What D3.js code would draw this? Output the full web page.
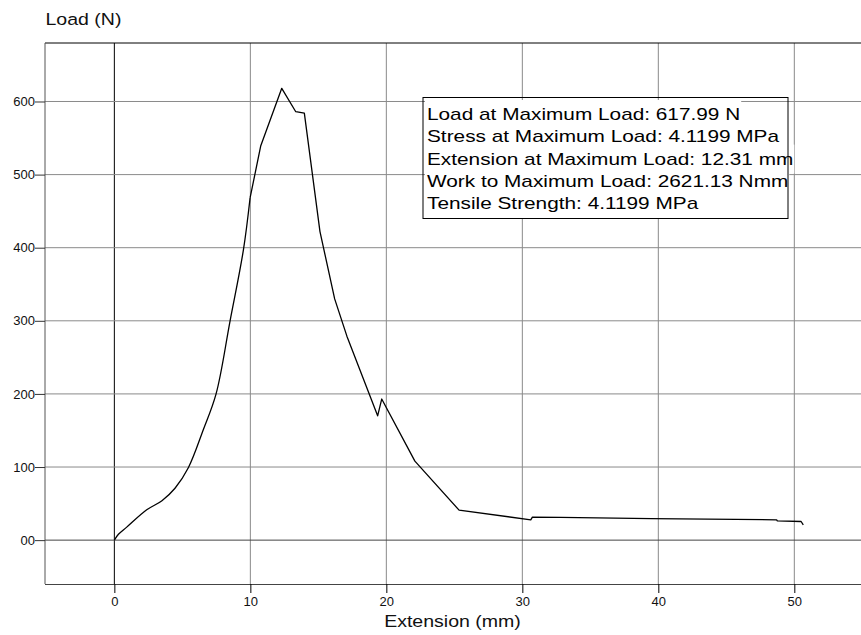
<!DOCTYPE html>
<html>
<head>
<meta charset="utf-8">
<script src="https://cdn.jsdelivr.net/npm/d3@7"></script>
<style>
  body { margin: 0; background: #fff; }
  svg { display: block; font-family: "Liberation Sans", Arial, sans-serif; }
</style>
</head>
<body>
<div id="chart"></div>
<script>
// load / extension curve
const extension = [0, 0.3, 0.91, 2.38, 3.5, 4.46, 5.44, 6.54, 7.48, 8.51, 9.49, 9.98, 10.76,
    12.31, 13.34, 13.97, 15.12, 16.2, 17.1, 19.36, 19.66, 22.1, 25.35, 30.62, 30.74, 32.8, 39.5, 48.7, 48.75, 50.5, 50.66];
const load = [0, 8, 17.8, 41.5, 54, 71, 99, 151, 200, 300, 397, 468, 539,
    618, 586, 584, 422, 330, 279, 170, 193, 108, 41, 27.8, 31.5, 31, 29.5, 27.8, 26.4, 25.5, 21];

const xTicks = [0, 10, 20, 30, 40, 50];
const yTicks = [0, 100, 200, 300, 400, 500, 600];
const yTickLabels = ["00", "100", "200", "300", "400", "500", "600"];

const resultLines = [
    "Load at Maximum Load: 617.99 N",
    "Stress at Maximum Load: 4.1199 MPa",
    "Extension at Maximum Load: 12.31 mm",
    "Work to Maximum Load: 2621.13 Nmm",
    "Tensile Strength: 4.1199 MPa"
];

const width = 861, height = 635;
const plotLeft = 45, plotRight = 860, plotTop = 43, plotBottom = 584;

const x = d3.scaleLinear().domain([-5.1, 54.83]).range([plotLeft, plotRight]);
const y = d3.scaleLinear().domain([-60, 680]).range([plotBottom, plotTop]);

const svg = d3.select("#chart").append("svg")
    .attr("width", width)
    .attr("height", height);

svg.append("rect").attr("width", width).attr("height", height).attr("fill", "#fff");

// grid
svg.append("g")
    .selectAll("line")
    .data(xTicks)
    .join("line")
    .attr("x1", d => x(d)).attr("x2", d => x(d))
    .attr("y1", plotTop).attr("y2", plotBottom)
    .attr("stroke", d => d === 0 ? "#000" : "#8a8a8a")
    .attr("stroke-width", 1);

svg.append("g")
    .selectAll("line")
    .data(yTicks)
    .join("line")
    .attr("x1", plotLeft).attr("x2", width)
    .attr("y1", d => y(d)).attr("y2", d => y(d))
    .attr("stroke", d => d === 0 ? "#444" : "#8a8a8a")
    .attr("stroke-width", 1);

// frame
svg.append("line").attr("x1", plotLeft).attr("x2", width).attr("y1", plotTop).attr("y2", plotTop)
    .attr("stroke", "#000");
svg.append("line").attr("x1", plotLeft).attr("x2", plotLeft).attr("y1", plotTop).attr("y2", plotBottom)
    .attr("stroke", "#555");

// axes
const xAxis = d3.axisBottom(x).tickValues(xTicks).tickSize(9).tickPadding(4);
svg.append("g")
    .attr("transform", `translate(0,${plotBottom})`)
    .call(xAxis)
    .call(g => g.select(".domain").attr("d", `M${plotLeft},0.5H${width}`).attr("stroke", "#444"))
    .call(g => g.selectAll(".tick line").attr("stroke", "#000"))
    .call(g => g.selectAll("text").attr("font-size", 13).attr("font-family", null).attr("fill", "#111"));

const yAxis = d3.axisLeft(y).tickValues(yTicks).tickFormat((d, i) => yTickLabels[i]).tickSize(10).tickPadding(0);
svg.append("g")
    .attr("transform", `translate(${plotLeft},0)`)
    .call(yAxis)
    .call(g => g.select(".domain").remove())
    .call(g => g.selectAll(".tick line").attr("stroke", "#333"))
    .call(g => g.selectAll("text").attr("font-size", 13).attr("font-family", null).attr("fill", "#111"));

// curve: smooth toe region, straight segments after ~10 mm
const pts = extension.map((e, i) => [e, load[i]]);
const smoothEnd = 11;

const smoothLine = d3.line()
    .x(d => x(d[0]))
    .y(d => y(d[1]))
    .curve(d3.curveCatmullRom.alpha(0.5));
const straightLine = d3.line()
    .x(d => x(d[0]))
    .y(d => y(d[1]));

const curve = svg.append("g")
    .attr("fill", "none")
    .attr("stroke", "#000")
    .attr("stroke-width", 1.3)
    .attr("stroke-linejoin", "round");

curve.append("path").attr("d", smoothLine(pts.slice(0, smoothEnd + 1)));
curve.append("path").attr("d", straightLine(pts.slice(smoothEnd)));

// axis titles (the report font is a little wide)
svg.append("text")
    .attr("transform", "translate(45.5,25) scale(1.15,1)")
    .attr("font-size", 17)
    .attr("fill", "#111")
    .text("Load (N)");

svg.append("text")
    .attr("transform", `translate(${(plotLeft + plotRight) / 2},627) scale(1.15,1)`)
    .attr("text-anchor", "middle")
    .attr("font-size", 17)
    .attr("fill", "#111")
    .text("Extension (mm)");

// results box
const boxX = 423, boxY = 97.5, lineH = 22.3, stretch = 1.3;
const box = svg.append("g");

const rows = box.selectAll("g")
    .data(resultLines)
    .join("g")
    .attr("transform", (d, i) => `translate(427,${120 + i * lineH})`);

rows.append("rect").attr("class", "bg");
rows.append("text")
    .attr("transform", `scale(${stretch},1)`)
    .attr("font-size", 16)
    .attr("fill", "#000")
    .text(d => d);

rows.each(function () {
    const w = d3.select(this).select("text").node().getComputedTextLength() * stretch;
    d3.select(this).select("rect.bg")
        .attr("x", -2).attr("y", -20)
        .attr("width", w + 3).attr("height", 29)
        .attr("fill", "#fff");
});

box.append("rect")
    .attr("x", boxX).attr("y", boxY)
    .attr("width", 365).attr("height", 121)
    .attr("fill", "none")
    .attr("stroke", "#000")
    .attr("stroke-width", 1);
</script>
</body>
</html>
